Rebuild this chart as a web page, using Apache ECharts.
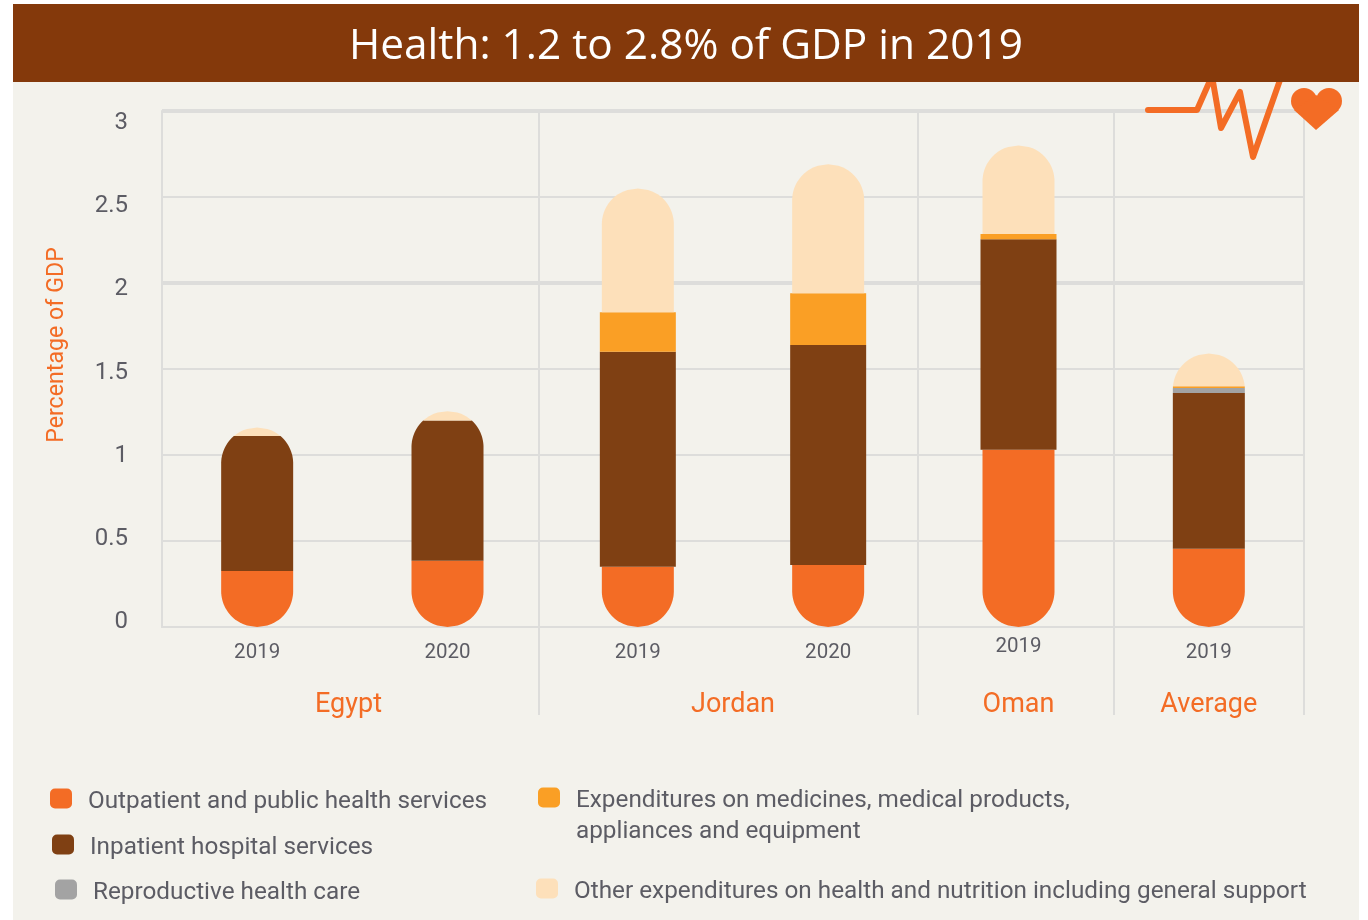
<!DOCTYPE html>
<html><head><meta charset="utf-8">
<style>html,body{margin:0;padding:0;background:#fff}#c{width:1368px;height:920px}</style>
<script src="https://cdn.jsdelivr.net/npm/echarts@6/dist/echarts.min.js"></script>
</head><body><div id="c"></div>
<script>
const titleText = 'Health: 1.2 to 2.8% of GDP in 2019';
const categories = ['2019','2020','2019','2020','2019','2019'];
const groups = ['Egypt','Jordan','Oman','Average'];
const groupCentres = [0.98,3,4.5,5.5];
const separators = [1.98,3.97,5,6];
const heavyLines = [2,3];
const names = ['Outpatient and public health services','Inpatient hospital services','Reproductive health care','Expenditures on medicines, medical products,\nappliances and equipment','Other expenditures on health and nutrition including general support'];
const colors = ['#f36c25','#7f4013','#a3a3a3','#fa9f25','#fde0ba'];
const outpatient = [0.325,0.385,0.35,0.36,1.03,0.455];
const inpatient  = [0.785,0.815,1.25,1.28,1.225,0.905];
const reproductive = [0,0,0,0,0,0.03];
const medicines  = [0,0,0.23,0.30,0.03,0.01];
const other      = [0.05,0.055,0.72,0.75,0.515,0.19];
const seriesValues = [outpatient,inpatient,reproductive,medicines,other];
const wideBars = [false,false,true,true,true,false];
const font = 'Roboto';
const textColor = '#5c5c64';
const R = 36;
const totals = categories.map((_,i)=>seriesValues.reduce((s,a)=>s+a[i],0));

function capsuleHalf(y, top, bottom){
  let d = 0;
  if (y < top + R) d = top + R - y; else if (y > bottom - R) d = y - (bottom - R);
  return Math.sqrt(Math.max(0, R*R - d*d));
}
function renderSeg(sIdx){
  return function(params, api){
    const i = api.value(0), lo = api.value(1), hi = api.value(2);
    if (hi - lo <= 0) return null;
    const cx = api.coord([i,0])[0];
    const y0 = api.coord([i,lo])[1], y1 = api.coord([i,hi])[1];
    const bottom = api.coord([i,0])[1], top = api.coord([i,totals[i]])[1];
    const extra = (wideBars[i] && (sIdx===1||sIdx===3)) ? 2 : 0;
    const left=[], right=[];
    const n = Math.max(2, Math.ceil((y0-y1)/1.5));
    for (let k=0;k<=n;k++){
      const y = y1 + (y0-y1)*k/n;
      let h = capsuleHalf(y, top, bottom);
      if (h >= R-0.01) h = R + extra;
      left.push([cx-h,y]); right.push([cx+h,y]);
    }
    return {type:'polygon', shape:{points:left.concat(right.reverse())}, style:{fill:colors[sIdx]}};
  };
}
const series = seriesValues.map((vals,s)=>{
  const data = vals.map((v,i)=>{
    const lo = seriesValues.slice(0,s).reduce((t,a)=>t+a[i],0);
    return [i,lo,lo+v];
  });
  return {type:'custom',name:names[s],xAxisIndex:0,yAxisIndex:0,z:3,
    itemStyle:{color:colors[s]},renderItem:renderSeg(s),
    encode:{x:0,y:[1,2]},data:data,silent:true,animation:false};
});
series.push({type:'line',xAxisIndex:0,yAxisIndex:0,data:[],z:1,silent:true,animation:false,
  markLine:{silent:true,symbol:'none',animation:false,z:1,label:{show:false},
    lineStyle:{color:'#dddddb',width:4,type:'solid'},
    data:heavyLines.map(v=>({yAxis:v}))}});

const legendPos = [[50,783],[52,829],[55,874],[538,782],[536,873]];
const legends = names.map((n,i)=>({
  show:true,data:[n],left:legendPos[i][0],top:legendPos[i][1],icon:'roundRect',itemWidth:22,itemHeight:20,itemGap:0,
  selectedMode:false,padding:0,formatter:t=>'{a|'+t.split('\n')[0]+'}',
  textStyle:{fontFamily:font,fontSize:24.3,color:textColor,padding:[0,0,0,11],
    rich:{a:{fontFamily:font,fontSize:24.3,color:textColor,lineHeight:31,padding:[7,0,0,0]}}}
}));

const chart = echarts.init(document.getElementById('c'),null,{renderer:'canvas'});
chart.setOption({
  animation:false,
  backgroundColor:'#ffffff',
  title:{text:titleText,left:349,top:19,padding:0,z:100,textStyle:{color:'#ffffff',fontFamily:'Open Sans',fontWeight:'normal',fontSize:42.4,lineHeight:56}},
  legend:legends,
  grid:[{left:162,right:64,top:111,height:516},{left:162,right:64,top:123,height:499}],
  xAxis:[
    {type:'category',gridIndex:0,data:categories,position:'bottom',
      axisLine:{show:true,lineStyle:{color:'#dddddb',width:2}},axisTick:{show:false},splitLine:{show:false},
      axisLabel:{margin:15,fontFamily:font,fontSize:20.5,color:textColor,
        formatter:(v,i)=>i===4?'{up|'+v+'}':v,rich:{up:{fontFamily:font,fontSize:20.5,color:textColor,lineHeight:9}}}},
    {type:'value',gridIndex:0,min:0,max:6,position:'bottom',
      axisLine:{show:false},
      axisTick:{show:true,inside:false,length:88,customValues:separators,lineStyle:{color:'#dddddb',width:2}},
      splitLine:{show:true,lineStyle:{color:'#dddddb',width:2}},
      axisLabel:{show:true,margin:65,customValues:groupCentres,fontFamily:font,fontSize:27,color:'#f36c25',
        formatter:v=>groups[groupCentres.indexOf(v)]}},
    {type:'value',gridIndex:1,min:0,max:1,show:false}
  ],
  yAxis:[
    {type:'value',gridIndex:0,min:0,max:3,interval:0.5,
      name:'Percentage of GDP',nameLocation:'middle',nameGap:93,nameRotate:90,
      nameTextStyle:{fontFamily:font,fontSize:23.2,color:'#f36c25',padding:[0,0,0,48]},
      axisLine:{show:true,lineStyle:{color:'#dddddb',width:2}},axisTick:{show:false},axisLabel:{show:false},
      splitLine:{show:true,lineStyle:{color:'#dddddb',width:2}}},
    {type:'value',gridIndex:1,min:0,max:3,interval:0.5,
      axisLine:{show:false},axisTick:{show:false},splitLine:{show:false},
      axisLabel:{margin:34,fontFamily:font,fontSize:24,color:textColor,formatter:v=>String(v)}}
  ],
  series:series,
  graphic:{elements:[
    {type:'rect',silent:true,z:-20,zlevel:-1,shape:{x:13,y:4,width:1346,height:916},style:{fill:'#f3f2ec'}},
    {type:'polyline',silent:true,z:50,shape:{points:[[1148,110],[1197,110],[1212,76],[1221,128],[1240,92],[1253,157],[1287,60]]},
      style:{stroke:'#f36c25',lineWidth:6,fill:null,lineJoin:'round',lineCap:'round'}},
    {type:'circle',silent:true,z:50,shape:{cx:1304,cy:101,r:13},style:{fill:'#f36c25'}},
    {type:'circle',silent:true,z:50,shape:{cx:1329,cy:101,r:13},style:{fill:'#f36c25'}},
    {type:'polygon',silent:true,z:50,shape:{points:[[1294,110],[1316,130],[1339,110],[1316,95]]},style:{fill:'#f36c25'}},
    {type:'rect',silent:true,z:60,shape:{x:13,y:4,width:1346,height:78},style:{fill:'#84390b'}},
    {type:'text',silent:true,z:60,style:{x:576,y:832,text:names[3].split('\n')[1],verticalAlign:'middle',fontFamily:font,fontSize:24.3,fill:textColor}}
  ]}
});
</script></body></html>
